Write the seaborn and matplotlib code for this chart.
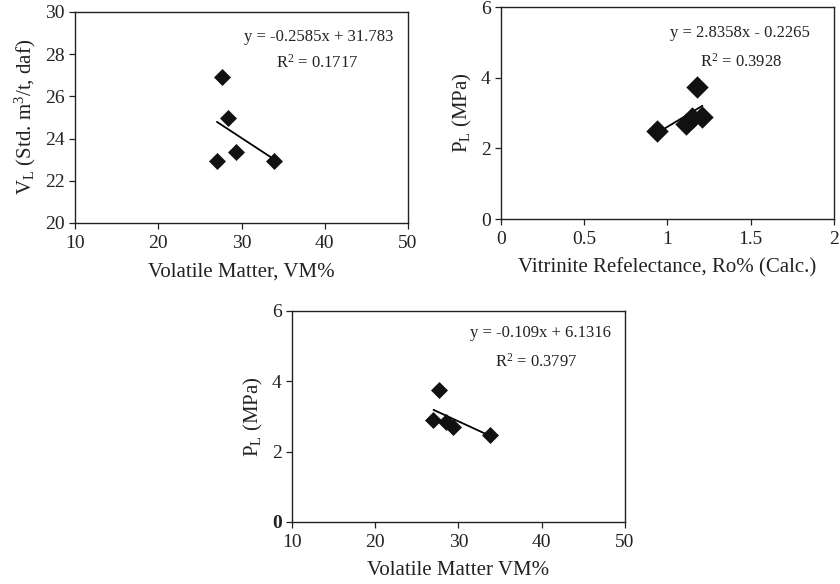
import numpy as np
import pandas as pd
import matplotlib
matplotlib.use("Agg")
import matplotlib.pyplot as plt
import seaborn as sns

# sample values
vm = [27.05, 27.7, 28.35, 29.35, 33.85]
vl = [22.95, 26.9, 24.97, 23.35, 22.95]
ro = [0.94, 1.11, 1.15, 1.18, 1.21]
pl_ro = [2.48, 2.68, 2.85, 3.74, 2.9]
vm_pl = [27.0, 27.72, 28.45, 29.3, 33.8]
pl_vm = [2.89, 3.76, 2.84, 2.70, 2.47]

# trendline coefficients (slope, intercept) and R^2 as printed
fit_vl_vm = (-0.2585, 31.783, 0.1717)
fit_pl_ro = (2.8358, -0.2265, 0.3928)
fit_pl_vm = (-0.109, 6.1316, 0.3797)

sns.set_style("ticks")
plt.rcParams["font.family"] = ["Liberation Serif", "DejaVu Serif"]
plt.rcParams["mathtext.fontset"] = "custom"
plt.rcParams["mathtext.rm"] = "Liberation Serif"
plt.rcParams["mathtext.it"] = "Liberation Serif:italic"

INK = "#222222"


def panel(ax, x, y, fit, xlim, xticks, ylim, yticks, xlabel, ylabel,
          msize, eq_text, eq_pos, r2_pos):
    xs = np.array([min(x), max(x)])
    line = pd.DataFrame({"x": xs, "y": fit[0] * xs + fit[1]})
    sns.lineplot(data=line, x="x", y="y", ax=ax, color="black", lw=1.3)
    sns.scatterplot(x=x, y=y, ax=ax, marker="D", s=msize, color="#111111",
                    edgecolor="#111111", linewidth=0, zorder=3)
    ax.set_xlim(*xlim)
    ax.set_ylim(*ylim)
    ax.set_xticks(xticks)
    ax.set_yticks(yticks)
    for sp in ax.spines.values():
        sp.set_linewidth(1.0)
        sp.set_color(INK)
    ax.tick_params(direction="out", length=4, width=0.9, labelsize=14,
                   colors=INK, top=False, right=False)
    ax.tick_params(axis="x", pad=5)
    ax.set_xlabel(xlabel, fontsize=15, color=INK, labelpad=7)
    ax.set_ylabel(ylabel, fontsize=15, color=INK, labelpad=5)
    ax.text(*eq_pos, eq_text, transform=ax.transAxes, ha="center", va="center",
            fontsize=12, color=INK)
    ax.text(*r2_pos, r"R$^\mathregular{2}$ = " + f"{fit[2]:.4f}",
            transform=ax.transAxes, ha="center", va="center",
            fontsize=12, color=INK)


fig = plt.figure(figsize=(8.4, 5.84), dpi=100)
ax1 = fig.add_axes([0.0893, 0.6182, 0.3964, 0.3613])
ax2 = fig.add_axes([0.5964, 0.625, 0.3964, 0.363])
ax3 = fig.add_axes([0.3476, 0.1062, 0.3964, 0.3613])

panel(ax1, vm, vl, fit_vl_vm, (10, 50), [10, 20, 30, 40, 50], (20, 30),
      [20, 22, 24, 26, 28, 30], "Volatile Matter, VM%",
      r"V$_\mathregular{L}$ (Std. m$^\mathregular{3}$/t, daf)", 75,
      "y = -0.2585x + 31.783", (0.733, 0.88), (0.727, 0.758))
panel(ax2, ro, pl_ro, fit_pl_ro, (0, 2), [0, 0.5, 1, 1.5, 2], (0, 6),
      [0, 2, 4, 6], "Vitrinite Refelectance, Ro% (Calc.)",
      r"P$_\mathregular{L}$ (MPa)", 130,
      "y = 2.8358x - 0.2265", (0.718, 0.877), (0.72, 0.74))
panel(ax3, vm_pl, pl_vm, fit_pl_vm,
      (10, 50), [10, 20, 30, 40, 50], (0, 6), [0, 2, 4, 6],
      "Volatile Matter VM%", r"P$_\mathregular{L}$ (MPa)", 75,
      "y = -0.109x + 6.1316", (0.745, 0.896), (0.733, 0.758))

ax2.set_xticklabels(["0", "0.5", "1", "1.5", "2"])
ax3.get_yticklabels()[0].set_fontweight("bold")

fig.savefig("out.png", dpi=100)
